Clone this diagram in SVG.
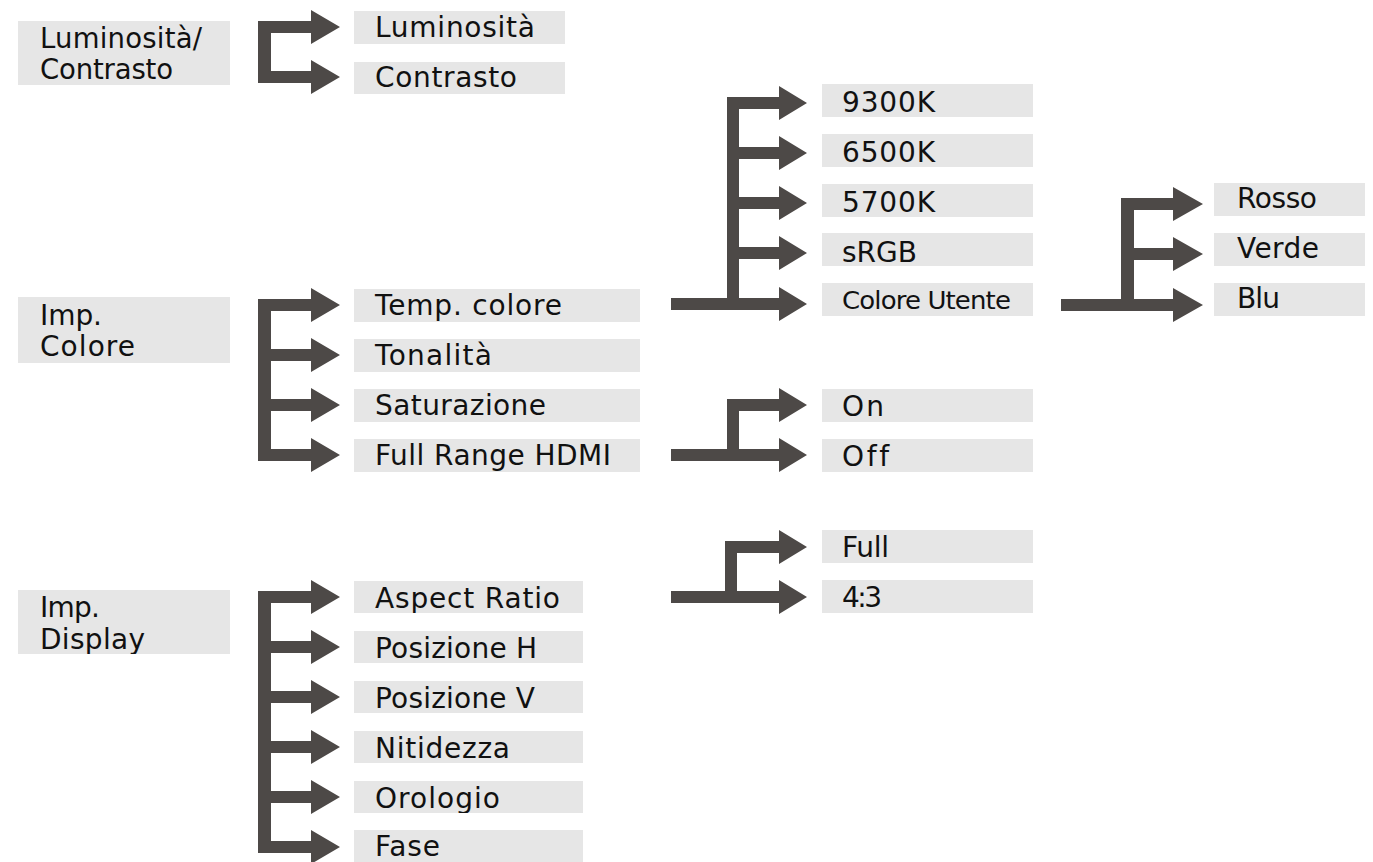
<svg xmlns="http://www.w3.org/2000/svg" width="1373" height="862" viewBox="0 0 1373 862">
<style>
.box{fill:#e6e6e6}
.t{font-family:"DejaVu Sans","Open Sans",sans-serif;font-size:28px;fill:#111;font-variant-ligatures:none}
.s{font-family:"DejaVu Sans","Open Sans",sans-serif;font-size:24px;fill:#111;letter-spacing:-0.8px}
.c{fill:#4d4947}
</style>
<defs>
<clipPath id="cTemp"><rect x="354" y="289" width="286" height="33"/></clipPath>
<clipPath id="cFull"><rect x="354" y="439" width="286" height="33"/></clipPath>
<clipPath id="cAsp"><rect x="354" y="581" width="229" height="32"/></clipPath>
<clipPath id="cOro"><rect x="354" y="781" width="229" height="32"/></clipPath>
<clipPath id="cDisp"><rect x="18" y="590" width="212" height="64"/></clipPath>
</defs>
<rect width="1373" height="862" fill="#fff"/>
<g id="connectors" class="c">
<path d="M258,21 H311 V10 L340,27 L311,44 V33 H271 V71 H311 V60 L340,77 L311,94 V83 H258 Z"/>
<path d="M258,299 H311 V288 L340,305 L311,322 V311 H271 V349 H311 V338 L340,355 L311,372 V361 H271 V399 H311 V388 L340,405 L311,422 V411 H271 V449 H311 V438 L340,455 L311,472 V461 H258 Z"/>
<path d="M258,591 H311 V580 L340,597 L311,614 V603 H271 V641 H311 V630 L340,647 L311,664 V653 H271 V691 H311 V680 L340,697 L311,714 V703 H271 V741 H311 V730 L340,747 L311,764 V753 H271 V791 H311 V780 L340,797 L311,814 V803 H271 V841 H311 V830 L340,847 L311,864 V853 H258 Z"/>
<path d="M727,97 H779 V86 L807,103 L779,120 V109 H739 V147 H779 V136 L807,153 L779,170 V159 H739 V197 H779 V186 L807,203 L779,220 V209 H739 V247 H779 V236 L807,253 L779,270 V259 H739 V298 H779 V287 L807,304 L779,321 V310 H671 V298 H727 Z"/>
<path d="M727,399 H779 V388 L807,405 L779,422 V411 H739 V449 H779 V438 L807,455 L779,472 V461 H671 V449 H727 Z"/>
<path d="M725,541 H779 V530 L807,547 L779,564 V553 H737 V591 H779 V580 L807,597 L779,614 V603 H671 V591 H725 Z"/>
<path d="M1121,198 H1173 V187 L1203,204 L1173,221 V210 H1134 V248 H1173 V237 L1203,254 L1173,271 V260 H1134 V299 H1173 V288 L1203,305 L1173,322 V311 H1061 V299 H1121 Z"/>
</g>
<g id="n-lumcon"><rect class="box" x="18" y="21" width="212" height="64"/><text class="t" style="font-size:27.5px"><tspan x="40" y="48" textLength="162" lengthAdjust="spacing">Luminosità/</tspan><tspan x="40" y="79" textLength="133" lengthAdjust="spacing">Contrasto</tspan></text></g>
<g id="n-lum"><rect class="box" x="354" y="11" width="211" height="33"/><text class="t" x="375" y="37" textLength="160" lengthAdjust="spacing">Luminosità</text></g>
<g id="n-con"><rect class="box" x="354" y="62" width="211" height="32"/><text class="t" x="375" y="87" textLength="142" lengthAdjust="spacing">Contrasto</text></g>
<g id="n-impcol"><rect class="box" x="18" y="297" width="212" height="66"/><text class="t"><tspan x="40" y="325" textLength="62" lengthAdjust="spacing">Imp.</tspan><tspan x="40" y="356" textLength="95" lengthAdjust="spacing">Colore</tspan></text></g>
<g id="n-temp"><rect class="box" x="354" y="289" width="286" height="33"/><text class="t" x="375" y="315" textLength="187" lengthAdjust="spacing" clip-path="url(#cTemp)">Temp. colore</text></g>
<g id="n-ton"><rect class="box" x="354" y="339" width="286" height="33"/><text class="t" x="375" y="365" textLength="117" lengthAdjust="spacing">Tonalità</text></g>
<g id="n-sat"><rect class="box" x="354" y="389" width="286" height="33"/><text class="t" x="375" y="415" textLength="171" lengthAdjust="spacing">Saturazione</text></g>
<g id="n-full"><rect class="box" x="354" y="439" width="286" height="33"/><text class="t" x="375" y="465" textLength="236" lengthAdjust="spacing" clip-path="url(#cFull)">Full Range HDMI</text></g>
<g id="n-impdisp"><rect class="box" x="18" y="590" width="212" height="64"/><text class="t" clip-path="url(#cDisp)"><tspan x="40" y="617" textLength="60" lengthAdjust="spacing">Imp.</tspan><tspan x="40" y="649" textLength="105" lengthAdjust="spacing">Display</tspan></text></g>
<g id="n-asp"><rect class="box" x="354" y="581" width="229" height="32"/><text class="t" x="375" y="608" textLength="185" lengthAdjust="spacing" clip-path="url(#cAsp)">Aspect Ratio</text></g>
<g id="n-posh"><rect class="box" x="354" y="631" width="229" height="32"/><text class="t" x="375" y="658" textLength="162" lengthAdjust="spacing">Posizione H</text></g>
<g id="n-posv"><rect class="box" x="354" y="681" width="229" height="32"/><text class="t" x="375" y="708" textLength="160" lengthAdjust="spacing">Posizione V</text></g>
<g id="n-nit"><rect class="box" x="354" y="731" width="229" height="32"/><text class="t" x="375" y="758" textLength="135" lengthAdjust="spacing">Nitidezza</text></g>
<g id="n-oro"><rect class="box" x="354" y="781" width="229" height="32"/><text class="t" x="375" y="808" textLength="125" lengthAdjust="spacing" clip-path="url(#cOro)">Orologio</text></g>
<g id="n-fase"><rect class="box" x="354" y="830" width="229" height="32"/><text class="t" x="375" y="856" textLength="65" lengthAdjust="spacing">Fase</text></g>
<g id="n-9300"><rect class="box" x="822" y="84" width="211" height="33"/><text class="t" x="842" y="112" textLength="93" lengthAdjust="spacing">9300K</text></g>
<g id="n-6500"><rect class="box" x="822" y="134" width="211" height="33"/><text class="t" x="842" y="162" textLength="93" lengthAdjust="spacing">6500K</text></g>
<g id="n-5700"><rect class="box" x="822" y="184" width="211" height="33"/><text class="t" x="842" y="212" textLength="93" lengthAdjust="spacing">5700K</text></g>
<g id="n-srgb"><rect class="box" x="822" y="233" width="211" height="33"/><text class="t" x="842" y="262" textLength="75" lengthAdjust="spacing">sRGB</text></g>
<g id="n-utente"><rect class="box" x="822" y="283" width="211" height="33"/><text class="s" x="842" y="309" textLength="168" lengthAdjust="spacingAndGlyphs">Colore Utente</text></g>
<g id="n-on"><rect class="box" x="822" y="389" width="211" height="33"/><text class="t" x="842" y="416" textLength="42" lengthAdjust="spacing">On</text></g>
<g id="n-off"><rect class="box" x="822" y="439" width="211" height="33"/><text class="t" x="842" y="466" textLength="47" lengthAdjust="spacing">Off</text></g>
<g id="n-fullar"><rect class="box" x="822" y="530" width="211" height="33"/><text class="t" x="842" y="557" textLength="47" lengthAdjust="spacing">Full</text></g>
<g id="n-43"><rect class="box" x="822" y="580" width="211" height="33"/><text class="t" x="842" y="607" textLength="40" lengthAdjust="spacing">4:3</text></g>
<g id="n-rosso"><rect class="box" x="1214" y="183" width="151" height="33"/><text class="t" x="1237" y="208" textLength="80" lengthAdjust="spacing">Rosso</text></g>
<g id="n-verde"><rect class="box" x="1214" y="233" width="151" height="33"/><text class="t" x="1237" y="258" textLength="82" lengthAdjust="spacing">Verde</text></g>
<g id="n-blu"><rect class="box" x="1214" y="283" width="151" height="33"/><text class="t" x="1237" y="308" textLength="43" lengthAdjust="spacing">Blu</text></g>
</svg>
